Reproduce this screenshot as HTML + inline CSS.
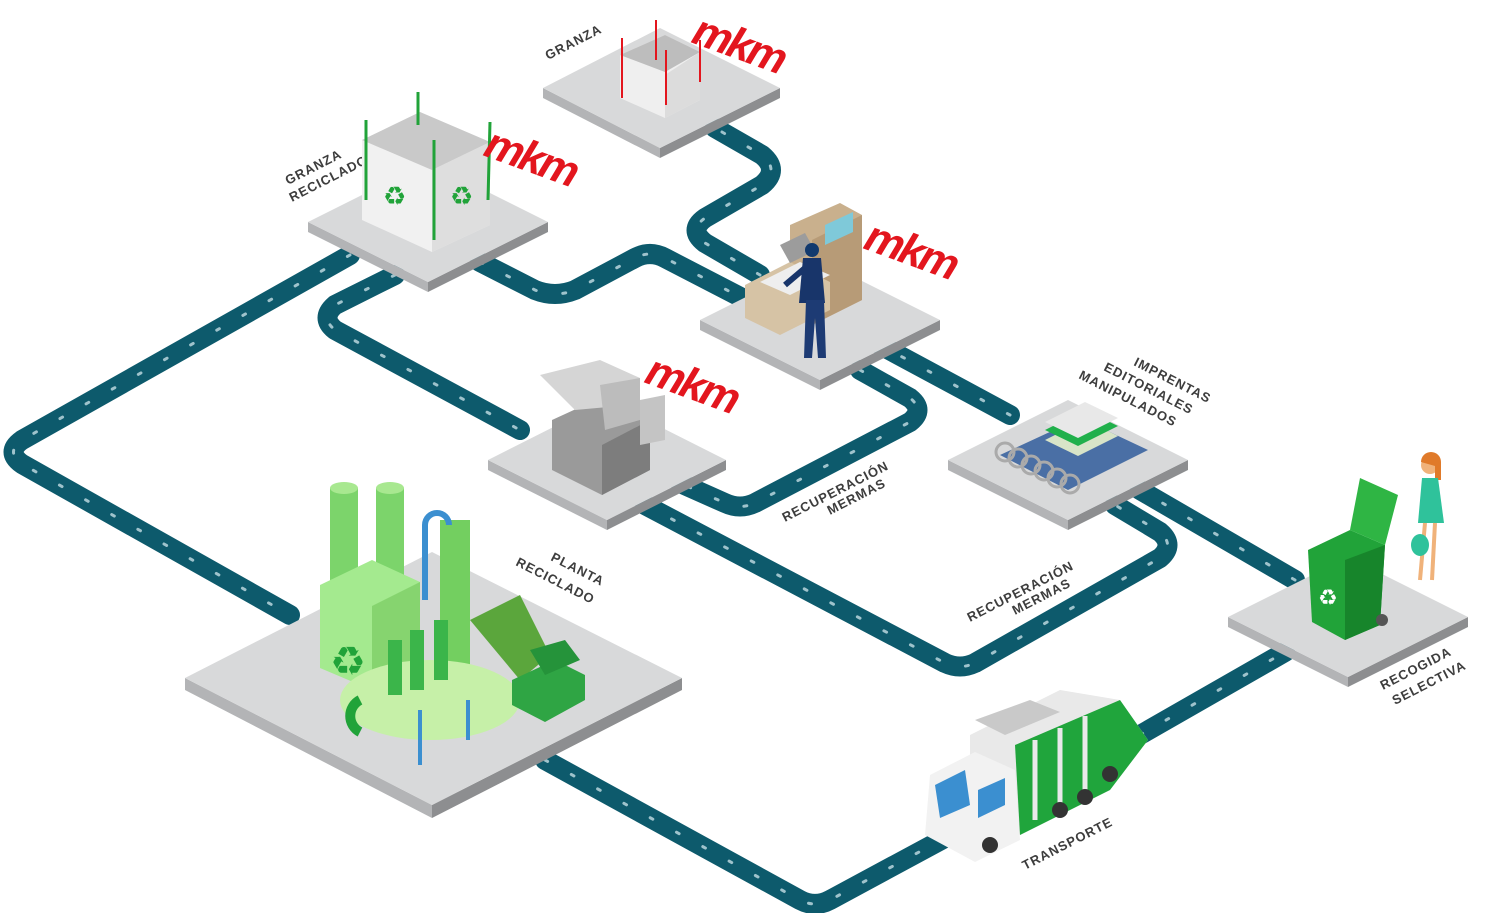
<!DOCTYPE html>
<html><head><meta charset="utf-8"><style>
html,body{margin:0;padding:0;background:#fff;}
svg{display:block;font-family:"Liberation Sans",sans-serif;}
.lbl{font-weight:bold;font-size:13px;fill:#3d3d3d;letter-spacing:1px;}
.mkm{font-weight:900;font-style:italic;font-size:44px;fill:#e3161e;letter-spacing:-3px;}
</style></head><body>
<svg width="1493" height="913" viewBox="0 0 1493 913" xmlns="http://www.w3.org/2000/svg">
<g fill="none" stroke-linejoin="round" stroke-linecap="round">
<g stroke="#0d5a6c" stroke-width="20">
<path d="M350,255 L22,440 Q5,452 22,464 L290,615"/>
<path d="M545,760 L800,900 Q815,908 830,900 L945,838"/>
<path d="M1140,735 L1285,652"/>
<path d="M1295,580 L1140,490"/>
<path d="M1010,415 L880,345"/>
<path d="M760,275 L705,243 Q688,230 705,218 L762,185 Q780,170 762,155 L715,128"/>
<path d="M480,262 L535,290 Q555,298 575,290 L635,258 Q650,250 665,258 L750,302"/>
<path d="M395,275 L335,305 Q320,318 335,330 L520,430"/>
<path d="M860,370 L910,398 Q925,410 910,422 L755,503 Q740,510 725,503 L680,483"/>
<path d="M645,505 L945,663 Q960,670 975,663 L1160,558 Q1175,545 1160,532 L1115,505"/>
</g>
<g stroke="#9fc3cc" stroke-width="3" stroke-dasharray="3 27">
<path d="M350,255 L22,440 Q5,452 22,464 L290,615"/>
<path d="M545,760 L800,900 Q815,908 830,900 L945,838"/>
<path d="M1140,735 L1285,652"/>
<path d="M1295,580 L1140,490"/>
<path d="M1010,415 L880,345"/>
<path d="M760,275 L705,243 Q688,230 705,218 L762,185 Q780,170 762,155 L715,128"/>
<path d="M480,262 L535,290 Q555,298 575,290 L635,258 Q650,250 665,258 L750,302"/>
<path d="M395,275 L335,305 Q320,318 335,330 L520,430"/>
<path d="M860,370 L910,398 Q925,410 910,422 L755,503 Q740,510 725,503 L680,483"/>
<path d="M645,505 L945,663 Q960,670 975,663 L1160,558 Q1175,545 1160,532 L1115,505"/>
</g>
</g>

<g>
<polygon points="543,88 660,148 660,158 543,98" fill="#b3b4b6"/><polygon points="660,148 780,88 780,98 660,158" fill="#8d8e90"/><polygon points="543,88 660,28 780,88 660,148" fill="#d8d9da"/>
<polygon points="308,222 428,282 428,292 308,232" fill="#b3b4b6"/><polygon points="428,282 548,222 548,232 428,292" fill="#8d8e90"/><polygon points="308,222 428,162 548,222 428,282" fill="#d8d9da"/>
<polygon points="700,320 820,380 820,390 700,330" fill="#b3b4b6"/><polygon points="820,380 940,320 940,330 820,390" fill="#8d8e90"/><polygon points="700,320 820,260 940,320 820,380" fill="#d8d9da"/>
<polygon points="488,460 607,520 607,530 488,470" fill="#b3b4b6"/><polygon points="607,520 726,460 726,470 607,530" fill="#8d8e90"/><polygon points="488,460 607,400 726,460 607,520" fill="#d8d9da"/>
<polygon points="948,460 1068,520 1068,530 948,470" fill="#b3b4b6"/><polygon points="1068,520 1188,460 1188,470 1068,530" fill="#8d8e90"/><polygon points="948,460 1068,400 1188,460 1068,520" fill="#d8d9da"/>
<polygon points="185,678 432,805 432,818 185,690" fill="#b3b4b6"/><polygon points="432,805 682,678 682,690 432,818" fill="#8d8e90"/><polygon points="185,678 432,552 682,678 432,805" fill="#d8d9da"/>
<polygon points="1228,617 1348,677 1348,687 1228,627" fill="#b3b4b6"/><polygon points="1348,677 1468,617 1468,627 1348,687" fill="#8d8e90"/><polygon points="1228,617 1348,557 1468,617 1348,677" fill="#d8d9da"/>
</g>

<polygon points="620,55 665,35 700,52 700,100 665,118 620,98" fill="#efefef"/>
<polygon points="665,75 700,52 700,100 665,118" fill="#dcdcdc"/>
<polygon points="620,55 665,35 700,52 665,72" fill="#bdbdbd"/>
<g stroke="#e3161e" stroke-width="2" fill="none"><line x1="622" y1="38" x2="622" y2="98"/><line x1="656" y1="20" x2="656" y2="60"/><line x1="700" y1="40" x2="700" y2="82"/><line x1="666" y1="50" x2="666" y2="105"/></g>
<text class="mkm" x="690" y="42" transform="rotate(20 690 42)">mkm</text>
<text class="lbl" x="548" y="60" transform="rotate(-27 548 60)">GRANZA</text>

<text class="lbl" x="288" y="185" transform="rotate(-27 288 185)">GRANZA</text>
<text class="lbl" x="292" y="202" transform="rotate(-27 292 202)">RECICLADO</text>
<polygon points="362,140 420,112 490,142 490,225 432,252 362,220" fill="#f1f1f1"/>
<polygon points="432,170 490,142 490,225 432,252" fill="#dedede"/>
<polygon points="362,140 420,112 490,142 432,170" fill="#c9c9c9"/>
<g stroke="#21a339" stroke-width="3" fill="none"><line x1="366" y1="120" x2="366" y2="200"/><line x1="418" y1="92" x2="418" y2="125"/><line x1="490" y1="122" x2="488" y2="200"/><line x1="434" y1="140" x2="434" y2="240"/></g>
<text x="383" y="205" font-size="26" fill="#21a339">♻</text><text x="450" y="205" font-size="26" fill="#21a339">♻</text>
<text class="mkm" x="482" y="155" transform="rotate(20 482 155)">mkm</text>

<polygon points="790,225 840,203 862,215 862,300 812,325 790,312" fill="#c9b08d"/>
<polygon points="812,240 862,215 862,300 812,325" fill="#b79b77"/>
<polygon points="825,225 853,212 853,232 825,245" fill="#7fc9d9"/>
<polygon points="745,285 790,262 830,282 830,310 780,335 745,318" fill="#d6c3a5"/>
<polygon points="760,282 800,262 830,275 790,295" fill="#eee"/>
<path d="M780,245 l25,-12 l10,18 l-25,12z" fill="#9c9c9c"/>
<circle cx="812" cy="250" r="7" fill="#123a6e"/>
<path d="M803,258 h18 l4,45 h-26z" fill="#18356a"/>
<path d="M806,300 l-2,58 h8 l3,-40 l3,40 h8 l-2,-58z" fill="#1d3b74"/>
<line x1="805" y1="268" x2="785" y2="285" stroke="#18356a" stroke-width="6"/>
<text class="mkm" x="862" y="248" transform="rotate(20 862 248)">mkm</text>

<polygon points="552,420 600,398 650,420 650,470 602,495 552,470" fill="#9a9a9a"/>
<polygon points="602,445 650,420 650,470 602,495" fill="#7d7d7d"/>
<polygon points="540,375 600,360 640,378 630,405 575,410" fill="#d5d5d5"/>
<polygon points="600,385 640,378 640,420 605,430" fill="#bcbcbc"/>
<polygon points="640,400 665,395 665,440 640,445" fill="#c4c4c4"/>
<text class="mkm" x="643" y="382" transform="rotate(20 643 382)">mkm</text>

<polygon points="1000,455 1080,418 1148,450 1068,490" fill="#4a6fa5"/>
<polygon points="1045,440 1085,420 1118,436 1078,456" fill="#d8e4c8"/>
<polygon points="1045,430 1085,410 1118,426 1078,446" fill="#20b04b"/>
<polygon points="1045,422 1085,402 1118,418 1078,438" fill="#e8e8e8"/>
<g fill="none" stroke="#aaa" stroke-width="3"><circle cx="1005" cy="452" r="9"/><circle cx="1018" cy="458" r="9"/><circle cx="1031" cy="465" r="9"/><circle cx="1044" cy="471" r="9"/><circle cx="1057" cy="478" r="9"/><circle cx="1070" cy="484" r="9"/></g>
<text class="lbl" x="1133" y="365" transform="rotate(27 1133 365)">IMPRENTAS</text>
<text class="lbl" x="1103" y="370" transform="rotate(27 1103 370)">EDITORIALES</text>
<text class="lbl" x="1078" y="378" transform="rotate(27 1078 378)">MANIPULADOS</text>

<text class="lbl" x="785" y="522" transform="rotate(-27 785 522)">RECUPERACIÓN</text>
<text class="lbl" x="830" y="515" transform="rotate(-27 830 515)">MERMAS</text>
<text class="lbl" x="970" y="622" transform="rotate(-27 970 622)">RECUPERACIÓN</text>
<text class="lbl" x="1015" y="615" transform="rotate(-27 1015 615)">MERMAS</text>

<rect x="330" y="488" width="28" height="110" fill="#7cd46b"/><ellipse cx="344" cy="488" rx="14" ry="6" fill="#a8e890"/>
<rect x="376" y="488" width="28" height="110" fill="#7cd46b"/><ellipse cx="390" cy="488" rx="14" ry="6" fill="#a8e890"/>
<polygon points="320,585 372,560 420,582 420,668 372,690 320,668" fill="#a4ea8f"/>
<polygon points="372,606 420,582 420,668 372,690" fill="#86d46f"/>
<text x="330" y="675" font-size="40" fill="#21a339">♻</text>
<rect x="440" y="520" width="30" height="150" fill="#73cf60"/>
<path d="M425,600 V525 a12,12 0 0 1 24,0" fill="none" stroke="#3b8fd0" stroke-width="6"/>
<ellipse cx="430" cy="700" rx="90" ry="40" fill="#c6f0a8"/>
<rect x="388" y="640" width="14" height="55" fill="#3bb54a"/><rect x="410" y="630" width="14" height="60" fill="#3bb54a"/><rect x="434" y="620" width="14" height="60" fill="#3bb54a"/>
<path d="M360,700 a18,18 0 0 0 0,32" fill="none" stroke="#21a339" stroke-width="10"/>
<g stroke="#3b8fd0" stroke-width="4"><line x1="420" y1="710" x2="420" y2="765"/><line x1="468" y1="700" x2="468" y2="740"/></g>
<polygon points="470,620 520,595 550,655 520,680" fill="#5ba63c"/>
<polygon points="512,680 555,660 585,675 585,700 545,722 512,705" fill="#2fa544"/>
<polygon points="530,650 565,640 580,660 545,675" fill="#25933a"/>
<text class="lbl" x="550" y="560" transform="rotate(27 550 560)">PLANTA</text>
<text class="lbl" x="515" y="565" transform="rotate(27 515 565)">RECICLADO</text>

<polygon points="1308,550 1350,530 1385,545 1380,625 1345,640 1312,622" fill="#21a339"/>
<polygon points="1345,560 1385,545 1380,625 1345,640" fill="#17852b"/>
<polygon points="1350,530 1360,478 1398,495 1385,545" fill="#2fb544"/>
<text x="1318" y="605" font-size="22" fill="#fff">♻</text>
<circle cx="1382" cy="620" r="6" fill="#555"/>
<circle cx="1430" cy="465" r="9" fill="#f0b27a"/><path d="M1421,462 a10,10 0 0 1 20,0 v18 h-6 v-14z" fill="#e07a2a"/>
<path d="M1422,478 h16 l6,45 h-26z" fill="#2fc29b"/>
<line x1="1425" y1="523" x2="1420" y2="580" stroke="#f0b27a" stroke-width="4"/><line x1="1435" y1="523" x2="1432" y2="580" stroke="#f0b27a" stroke-width="4"/>
<ellipse cx="1420" cy="545" rx="9" ry="11" fill="#2fc29b"/>
<text class="lbl" x="1383" y="690" transform="rotate(-27 1383 690)">RECOGIDA</text>
<text class="lbl" x="1395" y="705" transform="rotate(-27 1395 705)">SELECTIVA</text>

<polygon points="970,735 1060,690 1120,700 1148,740 1110,790 1020,835 970,800" fill="#e9e9e9"/>
<polygon points="1015,745 1120,700 1148,740 1110,790 1020,835" fill="#20a53c"/>
<g stroke="#e9e9e9" stroke-width="5"><line x1="1035" y1="740" x2="1035" y2="820"/><line x1="1060" y1="728" x2="1060" y2="805"/><line x1="1085" y1="716" x2="1085" y2="795"/></g>
<polygon points="930,775 975,752 1015,770 1020,840 975,862 925,835" fill="#f2f2f2"/>
<polygon points="935,785 965,770 970,805 940,818" fill="#3b8fd0"/>
<polygon points="978,790 1005,778 1005,805 978,818" fill="#3b8fd0"/>
<polygon points="975,720 1030,700 1060,712 1005,735" fill="#c9c9c9"/>
<g fill="#333"><circle cx="990" cy="845" r="8"/><circle cx="1060" cy="810" r="8"/><circle cx="1085" cy="797" r="8"/><circle cx="1110" cy="774" r="8"/></g>
<text class="lbl" x="1025" y="870" transform="rotate(-27 1025 870)">TRANSPORTE</text>
</svg>
</body></html>
